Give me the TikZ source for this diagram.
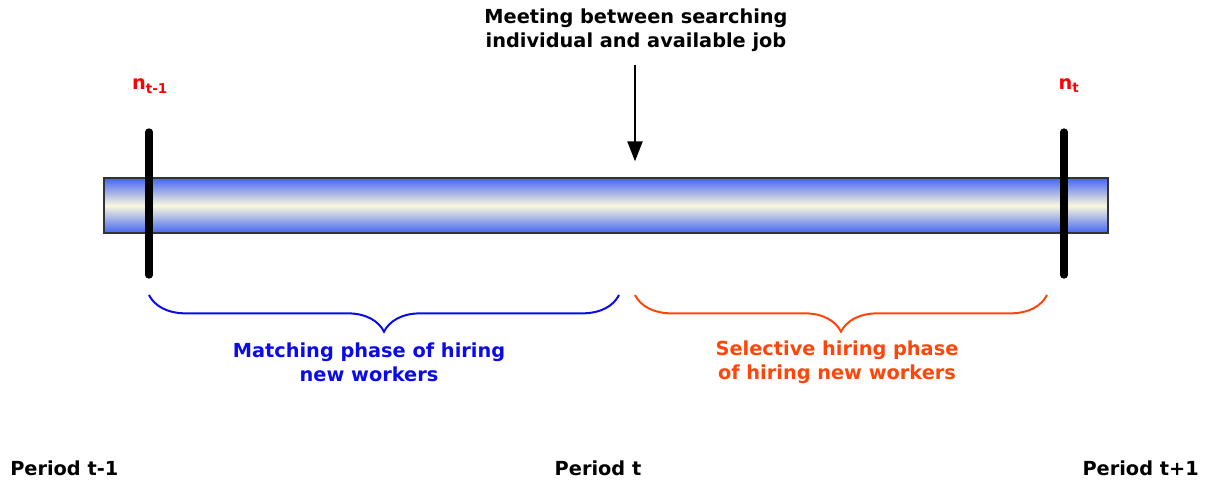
\documentclass[tikz,border=0pt]{standalone}
\usepackage{fontspec}
\setmainfont{DejaVu Sans}
\usepackage{xcolor}
\usetikzlibrary{arrows.meta,decorations.pathreplacing}

\definecolor{barblue}{RGB}{68,100,242}
\definecolor{barcream}{RGB}{250,248,222}
\definecolor{phaseblue}{RGB}{10,10,235}
\definecolor{phaseorange}{RGB}{255,70,10}

\tikzset{
  lbl/.style={inner sep=0.75pt, font=\fontsize{14.5}{18}\selectfont\bfseries, align=center},
  marker/.style={line width=5.5pt, line cap=round},
  phasebrace/.style={decorate, decoration={brace, amplitude=27.5pt, aspect=0.5}, line width=1.5pt}
}

\begin{document}
\begin{tikzpicture}[x=0.75pt,y=0.75pt,yscale=-1,xscale=1]
\useasboundingbox (0,0) rectangle (1208,482);
%Shape: Bar [id:bar]
\node (bar) [draw=black!80, line width=0.8pt, minimum width=1004*0.75pt, minimum height=55*0.75pt, inner sep=0pt,
  top color=barblue, bottom color=barblue, middle color=barcream] at (606,205.5) {};
%Markers
\coordinate (m1top) at (149,132);
\coordinate (m1bot) at (149,275);
\coordinate (m2top) at (1064,132);
\coordinate (m2bot) at (1064,275);
\draw [marker] (m1top) -- (m1bot) ;
\draw [marker] (m2top) -- (m2bot) ;
%Straight Lines [id:meet]
\coordinate (meet) at (635,65);
\draw [line width=2.2pt, -{Triangle[length=15pt, width=11pt]}, shorten >=16*0.75pt] (meet) -- (meet |- bar.north) ;
% Text Node
\node (meettxt) [lbl] at (636,30) {Meeting between searching\\individual and available job};
% Text Node
\node (nold) [lbl, text=red] at (150,86) {n\textsubscript{t-1}};
% Text Node
\node (nnew) [lbl, text=red] at (1069,86) {n\textsubscript{t}};
%Braces
\coordinate (b1l) at (149,295);
\coordinate (b1r) at (619,295);
\coordinate (b2l) at (635,295);
\coordinate (b2r) at (1047,295);
\draw [phasebrace, draw=phaseblue, decoration={mirror}] (b1l) -- (b1r) ;
\draw [phasebrace, draw=phaseorange, decoration={mirror}] (b2l) -- (b2r) ;
% Text Node
\node (matchtxt) [lbl, text=phaseblue] at (369,362) {Matching phase of hiring\\new workers};
% Text Node
\node (selecttxt) [lbl, text=phaseorange] at (837,362) {Selective hiring phase\\of hiring new workers};
% Text Node
\node (pold) [lbl, anchor=west] at (9,468) {Period t-1};
% Text Node
\node (pnow) [lbl] at (598,468) {Period t};
% Text Node
\node (pnext) [lbl, anchor=east] at (1200,468) {Period t+1};
\end{tikzpicture}
\end{document}
